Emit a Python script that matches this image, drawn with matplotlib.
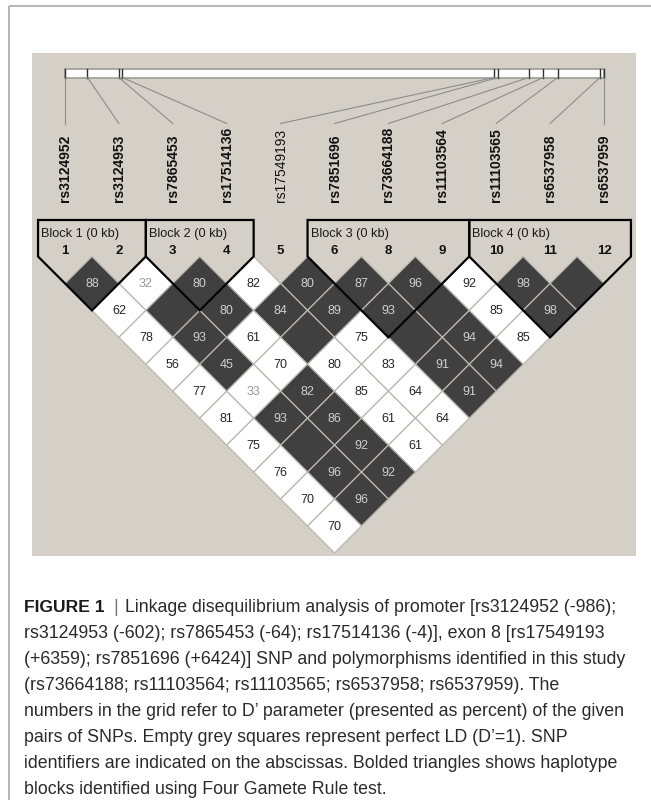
import matplotlib
matplotlib.use("Agg")
import matplotlib.pyplot as plt
from matplotlib.patches import Polygon, Rectangle

# ---- data -----------------------------------------------------------------
snp_names = ["rs3124952", "rs3124953", "rs7865453", "rs17514136", "rs17549193",
             "rs7851696", "rs73664188", "rs11103564", "rs11103565",
             "rs6537958", "rs6537959"]
snp_bp = [-986, -602, -64, -4, 6359, 6424, 6952, 7197, 7443, 8167, 8236]
snp_numbers = ["1", "2", "3", "4", "5", "6", "8", "9", "10", "11", "12"]
snp_bold = [True, True, True, True, False, True, True, True, True, True, True]

# D' (%) by diagonal: row k holds pairs (i, i+k); 100 means D' = 1 (no number)
dprime_rows = [
    [88, 32, 80, 82, 80, 87, 96, 92, 98, 100],
    [62, 100, 80, 84, 89, 93, 100, 85, 98],
    [78, 93, 61, 100, 75, 100, 94, 85],
    [56, 45, 70, 80, 83, 91, 94],
    [77, 33, 82, 85, 64, 91],
    [81, 93, 86, 61, 64],
    [75, 100, 92, 61],
    [76, 96, 92],
    [70, 96],
    [70],
]
# 1 = strong LD (dark cell), 0 = white cell
strong_rows = [
    [1, 0, 1, 0, 1, 1, 1, 0, 1, 1],
    [0, 1, 1, 1, 1, 1, 1, 0, 1],
    [0, 1, 0, 1, 0, 1, 1, 0],
    [0, 1, 0, 0, 0, 1, 1],
    [0, 0, 1, 0, 0, 1],
    [0, 1, 1, 0, 0],
    [0, 1, 1, 0],
    [0, 1, 1],
    [0, 1],
    [0],
]
# pairs whose value is printed in faint grey
faint_pairs = [(1, 2), (1, 6)]

blocks = [(0, 1, "Block 1 (0 kb)"), (2, 3, "Block 2 (0 kb)"),
          (5, 7, "Block 3 (0 kb)"), (8, 10, "Block 4 (0 kb)")]

caption_lines = [
    "rs3124953 (-602); rs7865453 (-64); rs17514136 (-4)], exon 8 [rs17549193",
    "(+6359); rs7851696 (+6424)] SNP and polymorphisms identified in this study",
    "(rs73664188; rs11103564; rs11103565; rs6537958; rs6537959). The",
    "numbers in the grid refer to D\u2019 parameter (presented as percent) of the given",
    "pairs of SNPs. Empty grey squares represent perfect LD (D\u2019=1). SNP",
    "identifiers are indicated on the abscissas. Bolded triangles shows haplotype",
    "blocks identified using Four Gamete Rule test.",
]
caption_head = "FIGURE 1"
caption_first = "Linkage disequilibrium analysis of promoter [rs3124952 (-986);"

# ---- layout ----------------------------------------------------------------
W, H = 651, 800
fig = plt.figure(figsize=(W / 100, H / 100), dpi=100)
ax = fig.add_axes([0, 0, 1, 1])
ax.set_xlim(0, W)
ax.set_ylim(H, 0)
ax.axis("off")

PANEL = "#d4d0c8"
DARK = "#404040"
EDGE = "#bcb8b0"
FONT = "Liberation Sans"

# frame of the caption box (top and left rules)
ax.plot([9, W], [6, 6], color="#a8a8a8", lw=1.2, solid_capstyle="butt")
ax.plot([9, 9], [6, H], color="#a8a8a8", lw=1.2, solid_capstyle="butt")

# grey Haploview panel
ax.add_patch(Rectangle((32, 53), 604, 503, facecolor=PANEL, edgecolor="none"))

n = len(snp_names)
x_first, x_last = 65.0, 604.0
step = (x_last - x_first) / (n - 1)
half = step / 2
xs = [x_first + i * step for i in range(n)]

# physical map bar
bar_top, bar_bot = 68.5, 77.5
ax.add_patch(Rectangle((x_first, bar_top), x_last - x_first, bar_bot - bar_top,
                       facecolor="white", edgecolor="#a09c96", lw=1.2))
bp0, bp1 = min(snp_bp), max(snp_bp)
bar_x = [x_first + (b - bp0) / (bp1 - bp0) * (x_last - x_first) for b in snp_bp]
for bx, lx in zip(bar_x, xs):
    ax.plot([bx, bx], [bar_top, bar_bot], color="#303030", lw=1.0)
    ax.plot([bx, lx], [bar_bot, 123.5], color="#8c8c8c", lw=0.8)

# SNP names
for lx, name, bold in zip(xs, snp_names, snp_bold):
    ax.text(lx, 202, name, rotation=90, ha="center", va="bottom",
            fontsize=10, family=FONT, color="#111111",
            fontweight="bold" if bold else "normal")

# LD grid
y0 = 256.5
for k, (vals, strong) in enumerate(zip(dprime_rows, strong_rows), start=1):
    for i, (v, s) in enumerate(zip(vals, strong)):
        j = i + k
        cx = (xs[i] + xs[j]) / 2
        cy = y0 + k * half
        diamond = [(cx, cy - half), (cx + half, cy), (cx, cy + half), (cx - half, cy)]
        ax.add_patch(Polygon(diamond, closed=True, facecolor=DARK if s else "white",
                             edgecolor=EDGE, lw=0.9, joinstyle="miter"))
        if v < 100:
            if s:
                tc = "#cfcfcf"
            elif (i, j) in faint_pairs:
                tc = "#9a9a9a"
            else:
                tc = "#262626"
            ax.text(cx, cy + 0.5, str(v), ha="center", va="center",
                    fontsize=9, family=FONT, color=tc)

# SNP numbers
for lx, lab in zip(xs, snp_numbers):
    ax.text(lx, 251.5, lab, ha="center", va="center", fontsize=9.5,
            family=FONT, fontweight="bold", color="#111111")

# haplotype blocks
top = 220
for a, b, name in blocks:
    left = xs[a] - half
    right = xs[b] + half
    mid = (xs[a] + xs[b]) / 2
    depth = half * (b - a + 1)
    outline = [(left, top), (right, top), (right, y0), (mid, y0 + depth), (left, y0)]
    ax.add_patch(Polygon(outline, closed=True, facecolor="none",
                         edgecolor="black", lw=1.6, joinstyle="miter"))
    ax.text(left + 3, 234, name, ha="left", va="center", fontsize=9.2,
            family=FONT, color="#1a1a1a")

# caption
CAP = "Liberation Sans"
cap_color = "#2a2a2a"
cap_size = 12.8
t0 = ax.text(24, 607, caption_head, ha="left", va="center", fontsize=12.6,
             family=CAP, fontweight="bold", color="#1a1a1a")
t1 = ax.annotate("|", xy=(1, 0.5), xycoords=t0, xytext=(9, 0),
                 textcoords="offset pixels", ha="left", va="center",
                 fontsize=cap_size, family=CAP, color="#777777")
ax.annotate(caption_first, xy=(1, 0.5), xycoords=t1, xytext=(7, 0),
            textcoords="offset pixels", ha="left", va="center",
            fontsize=cap_size, family=CAP, color=cap_color)
for r, line in enumerate(caption_lines, start=1):
    ax.text(24, 607 + 26 * r, line, ha="left", va="center", fontsize=cap_size,
            family=CAP, color=cap_color)

fig.savefig("out.png", dpi=100)
